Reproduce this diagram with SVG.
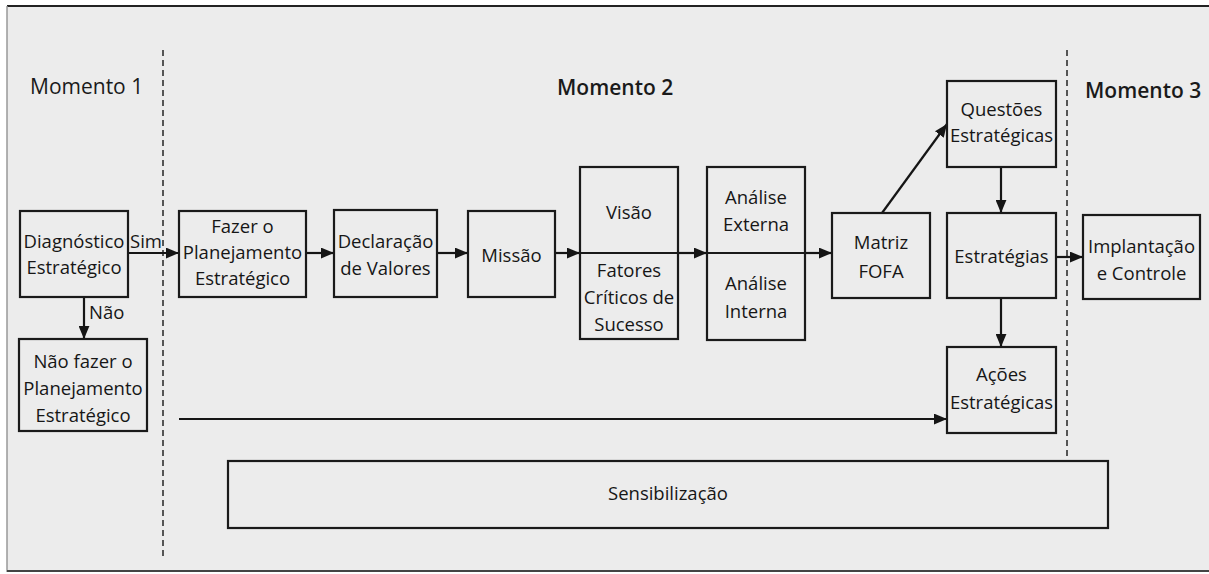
<svg xmlns="http://www.w3.org/2000/svg" width="1209" height="574" viewBox="0 0 1209 574">
  <defs>
    <marker id="arrow" viewBox="0 0 12 10" refX="12" refY="5" markerWidth="13" markerHeight="11" markerUnits="userSpaceOnUse" orient="auto">
      <path d="M0,0 L12,5 L0,10 z" fill="#151515"/>
    </marker>
    <style>
      .box { fill: none; stroke: #1a1a1a; stroke-width: 2.2; }
      .div { stroke: #1a1a1a; stroke-width: 2.2; }
      .lbl { font-family: "Open Sans", "Noto Sans", "Liberation Sans", sans-serif; font-size: 18.5px; fill: #161616; text-anchor: middle; }
      .edge { font-family: "Open Sans", "Noto Sans", "Liberation Sans", sans-serif; font-size: 18.5px; fill: #161616; }
      .phase { font-family: "Open Sans", "Noto Sans", "Liberation Sans", sans-serif; font-size: 21px; fill: #1a1a1a; }
      .con { stroke: #151515; stroke-width: 2.2; fill: none; marker-end: url(#arrow); }
      .sep { stroke: #555; stroke-width: 2; stroke-dasharray: 6 4; }
    </style>
  </defs>

  <!-- page -->
  <rect x="0" y="0" width="1209" height="574" fill="#ffffff"/>
  <rect x="7" y="6" width="1202" height="566" fill="#ececec"/>
  <line x1="7" y1="6" x2="1209" y2="6" stroke="#222" stroke-width="2"/>
  <line x1="7" y1="6" x2="7" y2="572" stroke="#999" stroke-width="1.5"/>
  <line x1="7" y1="571" x2="1209" y2="571" stroke="#444" stroke-width="2"/>

  <!-- phase separators and titles -->
  <g id="phases">
    <line class="sep" x1="163" y1="50" x2="163" y2="556"/>
    <line class="sep" x1="1067" y1="50" x2="1067" y2="460"/>
    <text class="phase" x="30" y="94">Momento 1</text>
    <text class="phase" x="557" y="95" font-weight="600">Momento 2</text>
    <text class="phase" x="1085" y="98" font-weight="600">Momento 3</text>
  </g>

  <!-- connectors -->
  <g id="connectors">
    <line class="con" x1="128" y1="253" x2="179" y2="253"/>
    <line class="con" x1="84" y1="297" x2="84" y2="339"/>
    <line class="con" x1="306" y1="253" x2="334" y2="253"/>
    <line class="con" x1="437" y1="253" x2="468" y2="253"/>
    <line class="con" x1="555" y1="253" x2="580" y2="253"/>
    <line class="con" x1="678" y1="253" x2="707" y2="253"/>
    <line class="con" x1="805" y1="253" x2="832" y2="253"/>
    <line class="con" x1="882" y1="213" x2="947" y2="124"/>
    <line class="con" x1="1001" y1="167" x2="1001" y2="213"/>
    <line class="con" x1="1056" y1="257" x2="1083" y2="257"/>
    <line class="con" x1="1001" y1="298" x2="1001" y2="347"/>
    <line class="con" x1="179" y1="419" x2="947" y2="419"/>
    <text class="edge" x="130" y="248">Sim</text>
    <text class="edge" x="89" y="319">Não</text>
  </g>

  <g id="diagnostico">
    <rect class="box" x="20" y="211" width="108" height="86"/>
    <text class="lbl" x="74" y="248">Diagnóstico</text>
    <text class="lbl" x="74" y="274">Estratégico</text>
  </g>

  <g id="nao-fazer">
    <rect class="box" x="19" y="339" width="128" height="92"/>
    <text class="lbl" x="83" y="368">Não fazer o</text>
    <text class="lbl" x="83" y="395">Planejamento</text>
    <text class="lbl" x="83" y="422">Estratégico</text>
  </g>

  <g id="fazer">
    <rect class="box" x="179" y="211" width="127" height="86"/>
    <text class="lbl" x="242.5" y="233">Fazer o</text>
    <text class="lbl" x="242.5" y="259">Planejamento</text>
    <text class="lbl" x="242.5" y="285">Estratégico</text>
  </g>

  <g id="declaracao">
    <rect class="box" x="334" y="210" width="103" height="87"/>
    <text class="lbl" x="385.5" y="248">Declaração</text>
    <text class="lbl" x="385.5" y="275">de Valores</text>
  </g>

  <g id="missao">
    <rect class="box" x="468" y="211" width="87" height="86"/>
    <text class="lbl" x="511.5" y="262">Missão</text>
  </g>

  <g id="visao">
    <rect class="box" x="580" y="167" width="98" height="172"/>
    <line class="div" x1="580" y1="253" x2="678" y2="253"/>
    <text class="lbl" x="629" y="219">Visão</text>
    <text class="lbl" x="629" y="277">Fatores</text>
    <text class="lbl" x="629" y="304">Críticos de</text>
    <text class="lbl" x="629" y="331">Sucesso</text>
  </g>

  <g id="analise">
    <rect class="box" x="707" y="167" width="98" height="173"/>
    <line class="div" x1="707" y1="253" x2="805" y2="253"/>
    <text class="lbl" x="756" y="204">Análise</text>
    <text class="lbl" x="756" y="231">Externa</text>
    <text class="lbl" x="756" y="290">Análise</text>
    <text class="lbl" x="756" y="318">Interna</text>
  </g>

  <g id="matriz">
    <rect class="box" x="832" y="213" width="98" height="85"/>
    <text class="lbl" x="881" y="249">Matriz</text>
    <text class="lbl" x="881" y="278">FOFA</text>
  </g>

  <g id="questoes">
    <rect class="box" x="947" y="81" width="109" height="86"/>
    <text class="lbl" x="1001.5" y="116" fill="#4a4a4a">Questões</text>
    <text class="lbl" x="1001.5" y="142">Estratégicas</text>
  </g>

  <g id="estrategias">
    <rect class="box" x="947" y="213" width="109" height="85"/>
    <text class="lbl" x="1001.5" y="263">Estratégias</text>
  </g>

  <g id="acoes">
    <rect class="box" x="947" y="347" width="109" height="86"/>
    <text class="lbl" x="1001.5" y="381">Ações</text>
    <text class="lbl" x="1001.5" y="409">Estratégicas</text>
  </g>

  <g id="implantacao">
    <rect class="box" x="1083" y="215" width="117" height="84"/>
    <text class="lbl" x="1141.5" y="253">Implantação</text>
    <text class="lbl" x="1141.5" y="280">e Controle</text>
  </g>

  <g id="sensibilizacao">
    <rect class="box" x="228" y="461" width="880" height="67"/>
    <text class="edge" x="608" y="500">Sensibilização</text>
  </g>
</svg>
